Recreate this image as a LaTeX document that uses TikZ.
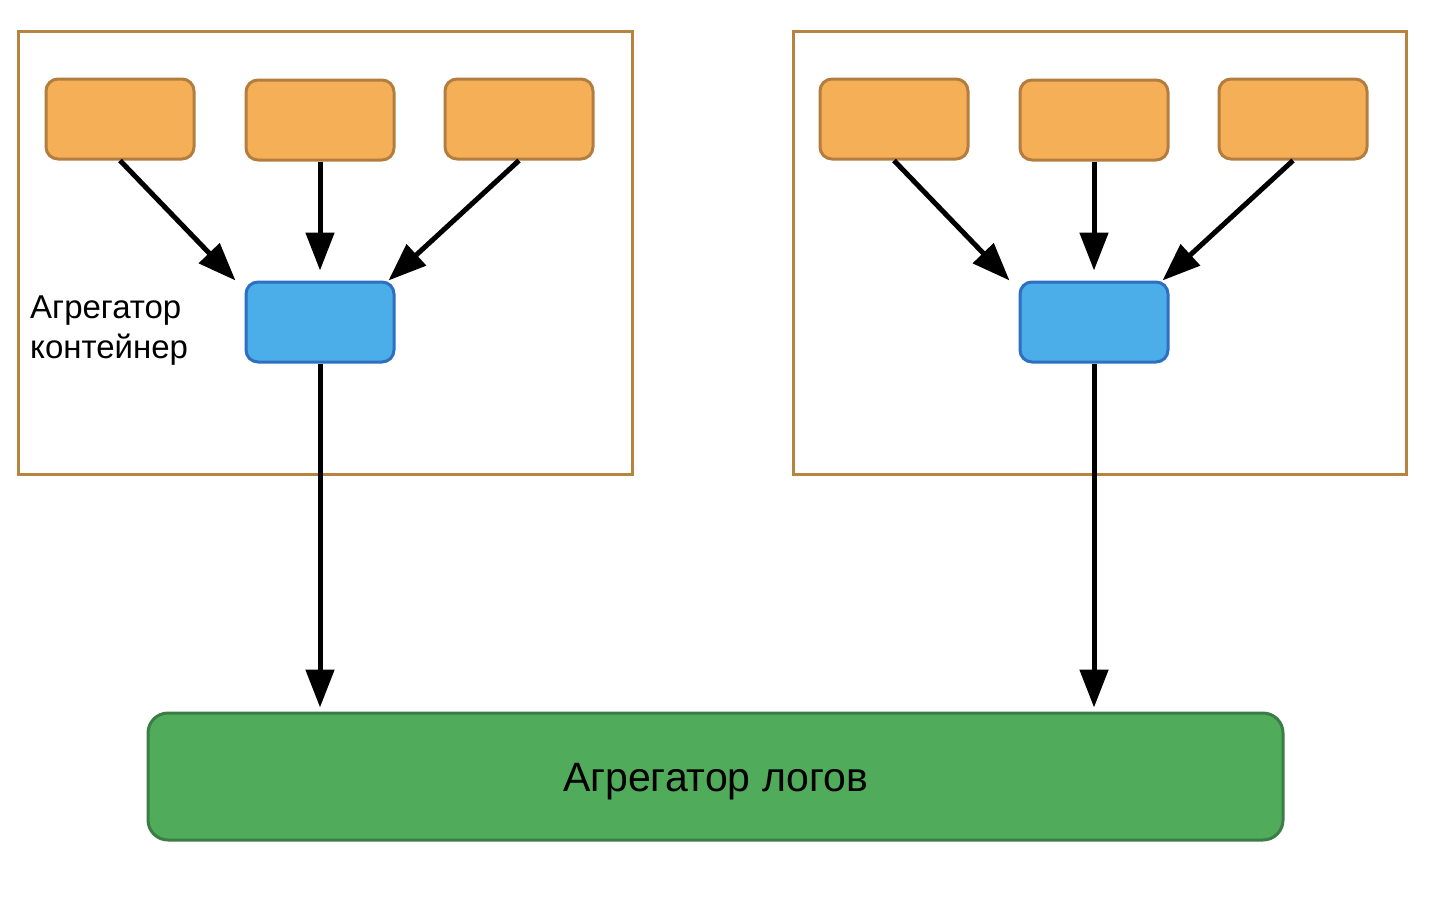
\documentclass[tikz,border=0pt]{standalone}
\usepackage{fontspec}
\setmainfont{Liberation Sans}
\usetikzlibrary{arrows.meta}

\definecolor{appfill}{HTML}{F4AF57}
\definecolor{appline}{HTML}{B27D3F}
\definecolor{podline}{HTML}{B5843F}
\definecolor{aggfill}{HTML}{4BAEE8}
\definecolor{aggline}{HTML}{2D6FC0}
\definecolor{logfill}{HTML}{50AC5B}
\definecolor{logline}{HTML}{3B7D44}

\begin{document}
\begin{tikzpicture}[x=1pt,y=-1pt]

\useasboundingbox (0,0) rectangle (1432,902);

\tikzstyle{app}=[draw=appline, fill=appfill, line width=3pt, rounded corners=12pt,
  minimum width=148pt, minimum height=80pt]
\tikzstyle{agg}=[draw=aggline, fill=aggfill, line width=3pt, rounded corners=12pt,
  minimum width=148pt, minimum height=80pt]
\tikzstyle{flow}=[line width=5pt, -{Triangle[length=38pt,width=28pt]}]

% pods
\draw[podline, line width=3pt] (18,31) rectangle (632,474);
\draw[podline, line width=3pt] (793,31) rectangle (1406,474);

% containers, left pod
\node[app] (a1) at (120,119) {};
\node[app] (a2) at (320,120) {};
\node[app] (a3) at (519,119) {};
\node[agg] (g1) at (320,322) {};

% containers, right pod
\node[app] (b1) at (894,119) {};
\node[app] (b2) at (1094,120) {};
\node[app] (b3) at (1293,119) {};
\node[agg] (g2) at (1094,322) {};

\node[anchor=north west, inner sep=0pt, align=left, font=\fontsize{33}{40}\selectfont]
  (lbl) at (30,296) {Агрегатор\\контейнер};

% log aggregator
\node[draw=logline, fill=logfill, line width=3pt, rounded corners=20pt,
  minimum width=1135pt, minimum height=127pt] (logs) at (715.5,776.5) {};
\node[font=\fontsize{41}{48}\selectfont] (logtxt) at ([yshift=-5pt]logs.center) {Агрегатор логов};

\draw[flow] (a1.south) -- ([xshift=-9pt]g1.north west);
\draw[flow, shorten >=10pt] (a2.south) -- (g1.north);
\draw[flow] (a3.south) -- ([xshift=-7pt]g1.north east);
\draw[flow] (b1.south) -- ([xshift=-9pt]g2.north west);
\draw[flow, shorten >=10pt] (b2.south) -- (g2.north);
\draw[flow] (b3.south) -- ([xshift=-7pt]g2.north east);

\draw[flow, shorten >=4pt] (g1.south) -- (g1.south |- logs.north);
\draw[flow, shorten >=4pt] (g2.south) -- (g2.south |- logs.north);

\end{tikzpicture}
\end{document}
